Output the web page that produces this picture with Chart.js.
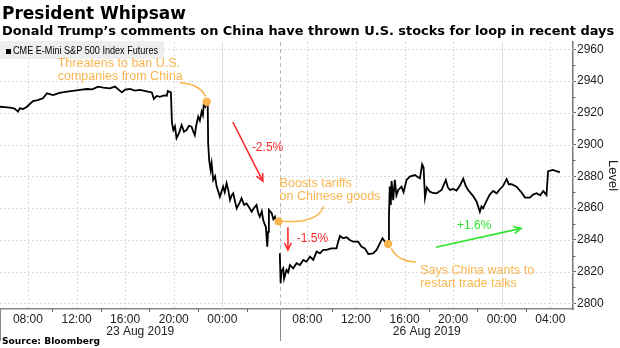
<!DOCTYPE html>
<html><head><meta charset="utf-8">
<script src="https://cdn.jsdelivr.net/npm/chart.js@4.4.1/dist/chart.umd.min.js"></script>
<style>
html,body{margin:0;padding:0;background:#fff;}
#wrap{position:relative;width:620px;height:348px;overflow:hidden;}
canvas{position:absolute;left:0;top:0;}
.t{position:absolute;left:2px;white-space:nowrap;font-family:'DejaVu Sans',sans-serif;font-weight:bold;color:#000;line-height:1;}
#title{top:5px;font-size:17.5px;}
#sub{top:25px;font-size:13.2px;}
#src{top:337px;font-size:9.5px;}
</style></head><body>
<div id="wrap"><canvas id="c" width="620" height="348"></canvas>
<div class="t" id="title">President Whipsaw</div>
<div class="t" id="sub">Donald Trump’s comments on China have thrown U.S. stocks for loop in recent days</div>
<div class="t" id="src">Source: Bloomberg</div>
</div>
<script>
// ---------------- DATA ----------------
const seriesName = 'CME E-Mini S&P 500 Index Futures';
// Friday 23 Aug session (day hh:mm, chart local time)
const friTimes = ['23 05:42','23 06:06','23 06:31','23 06:54','23 07:11','23 07:20','23 07:36','23 07:55','23 08:25','23 08:48',
 '23 09:14','23 09:34','23 10:04','23 10:36','23 11:13','23 11:42','23 12:17','23 12:52','23 13:18','23 13:46',
 '23 14:12','23 14:45','23 15:10','23 15:44','23 16:00','23 16:24','23 16:48','23 17:13','23 17:36','23 17:53',
 '23 18:12','23 18:22','23 18:36','23 18:52','23 19:12','23 19:26','23 19:31','23 19:46','23 19:51','23 19:58',
 '23 20:06','23 20:14','23 20:27','23 20:39','23 20:51','23 21:04','23 21:15','23 21:28','23 21:36','23 21:44',
 '23 21:51','23 22:01','23 22:09','23 22:18','23 22:24','23 22:29','23 22:36','23 22:43','23 22:48','23 22:50',
 '23 22:55','23 23:02','23 23:07','23 23:15','23 23:24','23 23:32','23 23:40','23 23:48','24 00:04','24 00:12',
 '24 00:21','24 00:30','24 00:38','24 00:46','24 00:54','24 01:03','24 01:11','24 01:24','24 01:35','24 01:48',
 '24 02:00','24 02:12','24 02:25','24 02:36','24 02:49','24 02:57','24 03:05','24 03:15','24 03:22','24 03:30',
 '24 03:35','24 03:42','24 03:46','24 03:50','24 04:04','24 04:12','24 04:20','24 04:27','24 04:36'];
const friValues = [2923.8,2923.6,2923.2,2922.6,2920.7,2922.8,2922.4,2923.8,2927.4,2928.0,
 2929.1,2932.3,2931.2,2932.5,2933.3,2933.8,2934.4,2935.0,2934.8,2936.5,
 2935.9,2935.4,2936.5,2932.9,2934.6,2935.0,2934.0,2934.4,2933.8,2933.3,
 2932.8,2928.7,2930.6,2930.1,2931.0,2930.8,2933.7,2932.9,2914.0,2909.2,
 2911.5,2904.0,2907.5,2912.3,2908.0,2909.2,2911.8,2911.2,2908.5,2906.0,
 2912.0,2917.5,2915.0,2920.7,2918.5,2926.0,2924.0,2927.0,2925.0,2900.8,
 2890.3,2884.0,2888.2,2877.7,2880.0,2873.5,2870.5,2867.1,2873.5,2870.0,
 2875.6,2871.0,2865.1,2868.0,2869.3,2864.0,2859.8,2863.0,2866.1,2862.0,
 2862.9,2860.5,2857.7,2860.0,2861.9,2857.0,2854.5,2858.0,2852.5,2849.5,
 2848.2,2835.6,2845.0,2858.8,2856.7,2853.0,2854.5,2850.5,2851.4];
// Monday 26 Aug session
const monTimes = ['26 05:44','26 05:48','26 05:52','26 06:01','26 06:05','26 06:17','26 06:25','26 06:34','26 06:50','26 07:07',
 '26 07:23','26 07:40','26 07:56','26 08:13','26 08:29','26 08:46','26 09:02','26 09:18','26 09:35','26 09:59',
 '26 10:24','26 10:32','26 10:41','26 10:57','26 11:14','26 11:30','26 11:46','26 12:11','26 12:28','26 12:44',
 '26 13:01','26 13:25','26 13:42','26 13:58','26 14:11','26 14:23','26 14:39','26 14:43','26 14:47','26 14:52',
 '26 14:56','26 15:04','26 15:12','26 15:20','26 15:29','26 15:45','26 15:55','26 16:10','26 16:26','26 16:51',
 '26 17:05','26 17:16','26 17:27','26 17:34','26 17:41','26 17:50','26 18:05','26 18:20','26 18:38','26 19:03',
 '26 19:24','26 19:34','26 19:44','26 20:00','26 20:17','26 20:35','26 20:50','26 21:02','26 21:14','26 21:39',
 '26 21:56','26 22:12','26 22:20','26 22:28','26 22:45','26 23:01','26 23:18','26 23:35','26 23:52','27 00:07',
 '27 00:24','27 00:35','27 00:49','27 01:13','27 01:38','27 01:55','27 02:19','27 02:35','27 02:52','27 03:10',
 '27 03:25','27 03:41','27 03:49','27 04:14','27 04:30','27 04:38','27 04:47'];
const monValues = [2831.5,2812.6,2820.0,2822.0,2815.5,2821.0,2819.5,2824.1,2822.0,2825.2,
 2824.1,2827.3,2826.2,2829.4,2827.3,2832.6,2831.5,2833.6,2833.6,2834.6,
 2834.6,2838.8,2842.4,2841.0,2841.6,2839.9,2838.8,2838.8,2835.6,2834.6,
 2831.0,2831.5,2833.6,2837.8,2841.0,2838.8,2837.3,2854.5,2873.5,2862.0,
 2877.0,2865.0,2877.7,2868.0,2871.4,2873.5,2870.0,2877.7,2879.8,2880.8,
 2879.5,2878.7,2887.5,2885.5,2866.5,2873.0,2870.3,2869.5,2869.3,2871.4,
 2877.7,2873.0,2871.4,2872.0,2871.0,2874.5,2878.5,2874.0,2871.4,2867.5,
 2864.0,2857.7,2861.0,2859.8,2864.5,2868.5,2870.8,2869.3,2872.0,2874.0,
 2878.2,2875.0,2875.0,2873.5,2869.8,2866.6,2866.6,2868.5,2869.3,2868.0,
 2870.8,2868.2,2883.2,2884.0,2883.2,2882.9,2882.5];

const xTickTimes = ['23 08:00','23 12:00','23 16:00','23 20:00','24 00:00','26 08:00','26 12:00','26 16:00','26 20:00','27 00:00','27 04:00'];
const xMinorTimes = ['23 10:00','23 14:00','23 18:00','23 22:00','24 02:00','26 10:00','26 14:00','26 18:00','26 22:00','27 02:00'];
const dayLabels = ['23 Aug 2019','26 Aug 2019'];
const yTicks = [2800,2820,2840,2860,2880,2900,2920,2940,2960];
const yMinorTicks = [2810,2830,2850,2870,2890,2910,2930,2950];
const xRange = ['23 05:42','27 05:52'];
const yRange = [2796.4, 2964.6];

// event annotations: dot on the line + text
const events = [
  {at:['23 22:43',2927.0], lines:['Threatens to ban U.S.','companies from China']},
  {at:['24 04:38',2851.6], lines:['Boosts tariffs','on Chinese goods']},
  {at:['26 14:39',2837.3], lines:['Says China wants to','restart trade talks']}
];
// move arrows + labels
const moves = [
  {text:'-2.5%', from:['24 00:52',2914.2], to:['24 03:20',2877.0], label:['24 02:26',2897.8]},
  {text:'-1.5%', from:['26 06:24',2847.9], to:['26 06:24',2833.6], label:['26 07:08',2840.9]},
  {text:'+1.6%', from:['26 18:35',2835.3], to:['27 01:35',2847.2], label:['26 20:19',2848.7]}
];

// ---------------- HELPERS / STYLE ----------------
const WEEKEND_GAP_H = 49; // hours of closed market removed from axis
const toH = s => {
  const [d, t] = s.split(' ');
  const [hh, mm] = t.split(':').map(Number);
  const h = (Number(d) - 23) * 24 + hh + mm / 60;
  return h > 30 ? h - WEEKEND_GAP_H : h;
};
const FONT = "'Liberation Sans', Arial, sans-serif";
const ORANGE = '#f9b550', RED = '#ff2b2b', GREEN = '#2ee62e';
const moveStyle = [{color:RED}, {color:RED}, {color:GREEN}];
// text / connector layout relative to each event dot (pixels)
const eventLayout = [
  {tx:-149, ty:-38, c:[[-27,-19],[-7,-18],[-1,-5]]},
  {tx:1, ty:-38, c:[[4,0],[39,2],[45,-15]]},
  {tx:32, ty:26, c:[[3,4],[9,17],[28,18]]}
];

// fit header texts to their measured widths
[['title',184],['sub',612],['src',98]].forEach(([id,w])=>{
  const el = document.getElementById(id);
  const cur = el.getBoundingClientRect().width;
  const fs = parseFloat(getComputedStyle(el).fontSize);
  el.style.fontSize = (fs * w / cur) + 'px';
});

Chart.defaults.font.family = FONT;

const points = friTimes.map((t,i)=>({x:toH(t), y:friValues[i]}));
points.push({x:(toH(friTimes[friTimes.length-1])+toH(monTimes[0]))/2, y:null});
monTimes.forEach((t,i)=>points.push({x:toH(t), y:monValues[i]}));

function sepX(chart){ return chart.scales.x.getPixelForValue(toH(monTimes[0])); }
function P(chart, a){ return [chart.scales.x.getPixelForValue(toH(a[0])), chart.scales.y.getPixelForValue(a[1])]; }
function seg(ctx,x1,y1,x2,y2){ ctx.beginPath(); ctx.moveTo(x1,y1); ctx.lineTo(x2,y2); ctx.stroke(); }

const gridPlugin = {
  id:'bgGrid',
  beforeDatasetsDraw(chart){
    const {ctx, chartArea:a, scales:{x,y}} = chart;
    ctx.save(); ctx.lineWidth = 1;
    ctx.strokeStyle = '#dcdcdc'; ctx.setLineDash([2,2]);
    yTicks.forEach(v=>{ const py = Math.round(y.getPixelForValue(v))+0.5; seg(ctx,a.left,py,a.right,py); });
    xTickTimes.forEach(t=>{
      const p = Math.round(x.getPixelForValue(toH(t)))+0.5;
      const midnight = t.endsWith('00:00');
      ctx.setLineDash(midnight?[]:[2,2]); ctx.strokeStyle = midnight?'#e0e0e0':'#dcdcdc';
      seg(ctx,p,a.top,p,a.bottom);
    });
    const sx = Math.round(sepX(chart))+0.5;
    ctx.setLineDash([4,3]); ctx.strokeStyle = '#b8b8b8'; seg(ctx,sx,a.top,sx,a.bottom);
    // legend
    ctx.setLineDash([]);
    ctx.fillStyle = '#eeeeee'; ctx.fillRect(0,41,164,18);
    ctx.fillStyle = '#000'; ctx.fillRect(6,49,5,5);
    ctx.font = '10.5px ' + FONT; ctx.textBaseline = 'middle';
    const w = ctx.measureText(seriesName).width;
    ctx.translate(13,51.5); ctx.scale(145/w,1); ctx.fillText(seriesName,0,0);
    ctx.restore();
  }
};

function arrowHead(ctx, x1,y1,x2,y2, len){
  const ang = Math.atan2(y2-y1, x2-x1);
  ctx.beginPath();
  ctx.moveTo(x2 - len*Math.cos(ang-0.45), y2 - len*Math.sin(ang-0.45));
  ctx.lineTo(x2,y2);
  ctx.lineTo(x2 - len*Math.cos(ang+0.45), y2 - len*Math.sin(ang+0.45));
  ctx.stroke();
}

const annPlugin = {
  id:'ann',
  afterDatasetsDraw(chart){
    const {ctx} = chart;
    ctx.save();
    events.forEach((e,i)=>{
      const [dx,dy] = P(chart,e.at); const L = eventLayout[i];
      ctx.strokeStyle = ORANGE; ctx.lineWidth = 1.5;
      ctx.beginPath(); ctx.moveTo(dx+L.c[0][0],dy+L.c[0][1]);
      ctx.quadraticCurveTo(dx+L.c[1][0],dy+L.c[1][1],dx+L.c[2][0],dy+L.c[2][1]); ctx.stroke();
      ctx.fillStyle = ORANGE; ctx.beginPath(); ctx.arc(dx,dy,4.2,0,Math.PI*2); ctx.fill();
      ctx.font = '12.5px ' + FONT; ctx.textBaseline = 'middle'; ctx.textAlign = 'left';
      e.lines.forEach((s,k)=>ctx.fillText(s, dx+L.tx, dy+L.ty+k*13));
    });
    moves.forEach((m,i)=>{
      const c = moveStyle[i].color;
      const [x1,y1] = P(chart,m.from), [x2,y2] = P(chart,m.to);
      ctx.strokeStyle = c; ctx.lineWidth = 1.6;
      seg(ctx,x1,y1,x2,y2); arrowHead(ctx,x1,y1,x2,y2,8);
      const [lx,ly] = P(chart,m.label);
      ctx.fillStyle = c; ctx.font = '12px ' + FONT; ctx.textBaseline='middle'; ctx.textAlign='left';
      ctx.fillText(m.text, lx, ly);
    });
    ctx.restore();
  },
  afterDraw(chart){
    const {ctx, chartArea:a, scales:{x,y}} = chart;
    ctx.save();
    ctx.strokeStyle = '#666'; ctx.lineWidth = 1;
    yMinorTicks.forEach(v=>{ const py = Math.round(y.getPixelForValue(v))+0.5; seg(ctx,a.right,py,a.right+2.5,py); });
    xMinorTimes.forEach(t=>{ const p = Math.round(x.getPixelForValue(toH(t)))+0.5; seg(ctx,p,a.bottom,p,a.bottom+3); });
    const sx = Math.round(sepX(chart))+0.5;
    ctx.strokeStyle = '#8a8a8a';
    seg(ctx,sx,a.bottom,sx,a.bottom+32); seg(ctx,0.5,a.bottom,0.5,a.bottom+32);
    ctx.fillStyle = '#222'; ctx.font = '12px ' + FONT; ctx.textAlign = 'center'; ctx.textBaseline = 'middle';
    ctx.fillText(dayLabels[0], (a.left+sx)/2, a.bottom+23);
    ctx.fillText(dayLabels[1], (sx+a.right)/2, a.bottom+23);
    ctx.restore();
  }
};

new Chart(document.getElementById('c'), {
  type:'line',
  data:{datasets:[{label:seriesName, data:points, borderColor:'#000', borderWidth:1.8, pointRadius:0, tension:0, spanGaps:false}]},
  options:{
    responsive:false, animation:false, devicePixelRatio:1,
    layout:{padding:{top:42,left:0,right:0,bottom:0}},
    plugins:{legend:{display:false}, tooltip:{enabled:false}},
    scales:{
      x:{type:'linear', min:toH(xRange[0]), max:toH(xRange[1]),
        afterBuildTicks:s=>{ s.ticks = xTickTimes.map(t=>({value:toH(t)})); },
        afterFit:s=>{ s.height = 39; },
        ticks:{autoSkip:false, maxRotation:0, padding:3, color:'#222', font:{size:12},
          callback:(v,i)=>xTickTimes[i].split(' ')[1]},
        grid:{drawOnChartArea:false, drawTicks:false},
        border:{display:true, color:'#888', width:1.5}},
      y:{position:'right', min:yRange[0], max:yRange[1],
        afterBuildTicks:s=>{ s.ticks = yTicks.map(v=>({value:v})); },
        afterFit:s=>{ s.width = 47; },
        ticks:{padding:1, color:'#222', font:{size:12}, callback:v=>String(v)},
        grid:{drawOnChartArea:false, drawTicks:true, tickLength:3, tickColor:'#666'},
        border:{display:true, color:'#777', width:1.5},
        title:{display:true, text:'Level', color:'#222', font:{size:13}, padding:0}}
    }
  },
  plugins:[gridPlugin, annPlugin]
});
</script>
</body></html>
